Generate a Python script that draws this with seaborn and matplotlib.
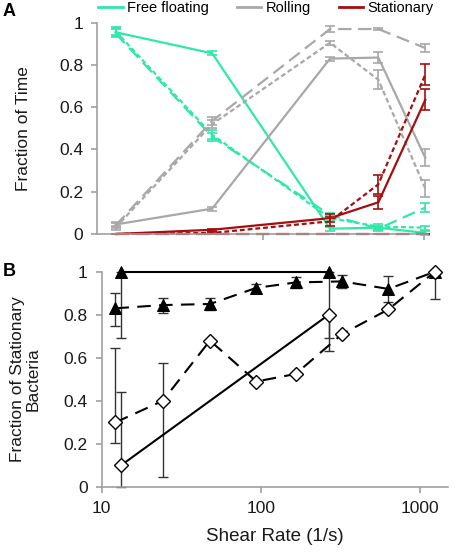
import numpy as np
import pandas as pd
import matplotlib
matplotlib.use("Agg")
import matplotlib.pyplot as plt
from matplotlib.lines import Line2D
import seaborn as sns

# ---- panel A: fraction of time in each state ----
SHEAR_A = [12, 48, 260, 520, 1020]
STATES = ["Free floating", "Rolling", "Stationary"]
CONDS = ["c1", "c2", "c3"]   # solid, short dash, long dash

FREE = {
    "c1": [0.955, 0.855, 0.025, 0.030, 0.005],
    "c2": [0.960, 0.470, 0.075, 0.035, 0.030],
    "c3": [0.950, 0.460, 0.090, 0.025, 0.125],
}
FREE_ERR = {
    "c1": [0.02, 0.01, 0.01, 0.01, 0.01],
    "c2": [0.02, 0.02, 0.01, 0.01, 0.01],
    "c3": [0.02, 0.02, 0.01, 0.01, 0.02],
}
ROLL = {
    "c1": [0.045, 0.120, 0.830, 0.835, 0.360],
    "c2": [0.030, 0.520, 0.905, 0.730, 0.215],
    "c3": [0.040, 0.535, 0.970, 0.970, 0.880],
}
ROLL_ERR = {
    "c1": [0.01, 0.01, 0.01, 0.025, 0.04],
    "c2": [0.01, 0.02, 0.01, 0.045, 0.04],
    "c3": [0.01, 0.02, 0.015, 0.005, 0.02],
}
STAT = {
    "c1": [0.0, 0.020, 0.075, 0.150, 0.635],
    "c2": [0.0, 0.005, 0.060, 0.235, 0.755],
    "c3": [0.0, 0.000, 0.000, 0.000, 0.000],
}
STAT_ERR = {
    "c1": [0.0, 0.005, 0.02, 0.03, 0.05],
    "c2": [0.0, 0.005, 0.02, 0.045, 0.05],
    "c3": [0.0, 0.0, 0.0, 0.0, 0.0],
}

# ---- panel B: fraction of stationary bacteria ----
SHEAR_B_DASH = [12.2, 24.2, 48, 94, 166, 325, 637, 1250]
TRI_DASH = [0.83, 0.845, 0.85, 0.925, 0.95, 0.955, 0.92, 1.0]
TRI_DASH_LO = [0.08, 0.035, 0.03, 0.02, 0.025, 0.03, 0.06, 0.125]
TRI_DASH_HI = [0.07, 0.035, 0.03, 0.02, 0.025, 0.03, 0.06, 0.0]
DIA_DASH = [0.30, 0.40, 0.68, 0.49, 0.525, 0.71, 0.825, 1.0]
DIA_DASH_LO = [0.095, 0.355, 0, 0, 0, 0, 0, 0]
DIA_DASH_HI = [0.345, 0.175, 0, 0, 0, 0, 0, 0]

SHEAR_B_SOLID = [13.2, 268]
TRI_SOLID = [1.0, 1.0]
TRI_SOLID_LO = [0.31, 0.37]
DIA_SOLID = [0.10, 0.80]
DIA_SOLID_LO = [0.10, 0.11]
DIA_SOLID_HI = [0.34, 0.0]

COLORS = {"Free floating": "#30e8a8", "Rolling": "#a8a8a8", "Stationary": "#a30f0f"}
DASHES = {"c1": "", "c2": (2.2, 1.3), "c3": (6, 3)}

plt.rcParams["font.family"] = ["Liberation Sans", "DejaVu Sans"]

rows = []
for state, vals, errs in [("Free floating", FREE, FREE_ERR),
                          ("Rolling", ROLL, ROLL_ERR),
                          ("Stationary", STAT, STAT_ERR)]:
    for c in CONDS:
        for x, y, e in zip(SHEAR_A, vals[c], errs[c]):
            rows.append({"shear": x, "frac": y, "err": e, "state": state, "cond": c})
df_a = pd.DataFrame(rows)

fig = plt.figure(figsize=(4.6, 5.56), dpi=100)
ax_a = fig.add_axes([97 / 460, 1 - 234 / 556, 331 / 460, 211.3 / 556])
ax_b = fig.add_axes([101.7 / 460, 1 - 487 / 556, 346.3 / 460, 215.3 / 556])

grey = "#a0a0a0"
txt = "#1a1a1a"

# panel A lines
sns.lineplot(data=df_a, x="shear", y="frac", hue="state", style="cond",
             palette=COLORS, dashes=DASHES, hue_order=STATES,
             style_order=CONDS, lw=1.6, legend=False, ax=ax_a,
             estimator=None, sort=False)
for (state, c), g in df_a.groupby(["state", "cond"]):
    ax_a.errorbar(g["shear"], g["frac"], yerr=g["err"], fmt="none",
                  ecolor=COLORS[state], elinewidth=1.2, capsize=3.5,
                  capthick=1.2, clip_on=False)

# panel B lines
sns.lineplot(x=SHEAR_B_DASH, y=TRI_DASH, ax=ax_b, color="black", lw=1.5,
             marker="^", markersize=8, markeredgecolor="black")
ax_b.lines[-1].set_dashes((6.5, 4))
sns.lineplot(x=SHEAR_B_DASH, y=DIA_DASH, ax=ax_b, color="black", lw=1.5,
             marker="D", markersize=7, markerfacecolor="white",
             markeredgecolor="black", markeredgewidth=1.0)
ax_b.lines[-1].set_dashes((6.5, 4))
sns.lineplot(x=SHEAR_B_SOLID, y=TRI_SOLID, ax=ax_b, color="black", lw=1.5,
             marker="^", markersize=8, markeredgecolor="black")
sns.lineplot(x=SHEAR_B_SOLID, y=DIA_SOLID, ax=ax_b, color="black", lw=1.5,
             marker="D", markersize=7, markerfacecolor="white",
             markeredgecolor="black", markeredgewidth=1.0)

ekw = dict(fmt="none", ecolor="#333333", elinewidth=1.0, capsize=3.5,
           capthick=1.0, zorder=1, clip_on=False)
ax_b.errorbar(SHEAR_B_DASH, TRI_DASH, yerr=[TRI_DASH_LO, TRI_DASH_HI], **ekw)
ax_b.errorbar(SHEAR_B_DASH[:2], DIA_DASH[:2],
              yerr=[DIA_DASH_LO[:2], DIA_DASH_HI[:2]], **ekw)
ax_b.errorbar(SHEAR_B_SOLID, TRI_SOLID, yerr=[TRI_SOLID_LO, [0, 0]], **ekw)
ax_b.errorbar(SHEAR_B_SOLID, DIA_SOLID, yerr=[DIA_SOLID_LO, DIA_SOLID_HI], **ekw)
for ln in ax_b.lines:
    ln.set_clip_on(False)
for ln in ax_a.lines:
    ln.set_clip_on(False)

for ax in (ax_a, ax_b):
    ax.set_xscale("log")
    ax.set_ylim(0, 1)
    ax.set_yticks([0, 0.2, 0.4, 0.6, 0.8, 1])
    ax.set_yticklabels(["0", "0.2", "0.4", "0.6", "0.8", "1"])
    for s in ("top", "right"):
        ax.spines[s].set_visible(False)
    for s in ("left", "bottom"):
        ax.spines[s].set_color(grey)
        ax.spines[s].set_linewidth(1.2)
    ax.tick_params(axis="both", which="major", colors=grey, labelcolor=txt,
                   labelsize=12.5, length=4, width=1.2, pad=6)
    ax.tick_params(axis="x", which="minor", length=0)
    ax.set_xlabel("")
    ax.set_ylabel("")

ax_a.set_xlim(9.2, 1060)
ax_a.set_xticks([100, 1000])
ax_a.set_xticklabels([])
ax_a.set_ylabel("Fraction of Time", fontsize=12.5, color=txt)
ax_a.yaxis.set_label_coords(-0.2, 0.5)

ax_b.set_xlim(10, 1510)
ax_b.set_xticks([10, 100, 1000])
ax_b.set_xticklabels(["10", "100", "1000"])
ax_b.set_xlabel("Shear Rate (1/s)", fontsize=13.5, color=txt, labelpad=9)
ax_b.set_ylabel("Fraction of Stationary\nBacteria", fontsize=12.5,
                color=txt, linespacing=1.05)
ax_b.yaxis.set_label_coords(-0.175, 0.5)

handles = [Line2D([0], [0], color=COLORS[s], lw=2) for s in STATES]
fig.legend(handles, STATES, loc="center", bbox_to_anchor=(0.578, 0.985),
           ncol=3, frameon=False, fontsize=10.5, handlelength=1.7,
           handletextpad=0.3, columnspacing=1.9, borderpad=0, borderaxespad=0)

fig.text(0.005, 1 - 11 / 556, "A", fontsize=13, fontweight="bold", va="center")
fig.text(0.005, 1 - 271 / 556, "B", fontsize=13, fontweight="bold", va="center")

fig.savefig("out.png", dpi=100)
